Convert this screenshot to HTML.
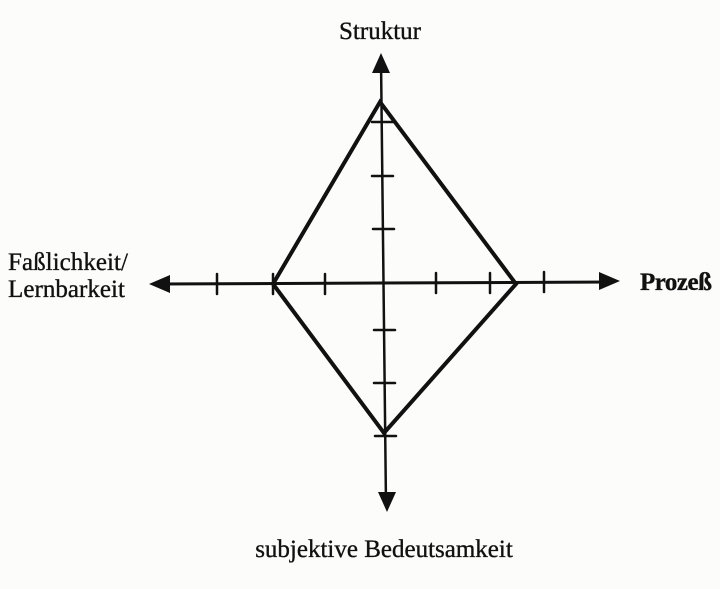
<!DOCTYPE html>
<html><head><style>
body{margin:0;background:#fff;}
svg{display:block;}
text{font-family:"Liberation Serif",serif;fill:#111;font-size:25px;stroke:#111;stroke-width:0.35;}
</style></head><body>
<svg width="720" height="589" viewBox="0 0 720 589">
<rect width="720" height="589" fill="#fcfcfb"/>
<g stroke="#111" fill="none" stroke-linecap="round">
<line x1="381" y1="60" x2="386" y2="505" stroke-width="2.5"/>
<line x1="158" y1="284" x2="612" y2="282" stroke-width="3"/>
<polygon points="380,102 516,284 384,433 273,284" stroke-width="4" stroke-linejoin="miter"/>
<g stroke-width="2.5">
<line x1="217" y1="274" x2="217" y2="294"/>
<line x1="273" y1="274" x2="273" y2="294"/>
<line x1="325" y1="274" x2="325" y2="294"/>
<line x1="436" y1="273" x2="436" y2="293"/>
<line x1="490" y1="273" x2="490" y2="293"/>
<line x1="544" y1="272" x2="544" y2="292"/>
<line x1="372" y1="122" x2="393" y2="122"/>
<line x1="372" y1="176" x2="393" y2="176"/>
<line x1="373" y1="229" x2="394" y2="229"/>
<line x1="374" y1="330" x2="395" y2="330"/>
<line x1="374" y1="383" x2="395" y2="383"/>
<line x1="375" y1="436" x2="396" y2="436"/>
</g>
</g>
<g fill="#111">
<polygon points="381,53 372,73 390,73"/>
<polygon points="387,512 378,492 396,492"/>
<polygon points="149,284 170,275 170,293"/>
<polygon points="620,281 599,272 599,290"/>
</g>
<text x="380" y="39" text-anchor="middle">Struktur</text>
<text x="8" y="270" textLength="120">Faßlichkeit/</text>
<text x="8" y="297" textLength="117">Lernbarkeit</text>
<text x="640" y="290" font-weight="bold" font-size="23" textLength="72">Prozeß</text>
<text x="384" y="557" text-anchor="middle">subjektive Bedeutsamkeit</text>
</svg>
</body></html>
